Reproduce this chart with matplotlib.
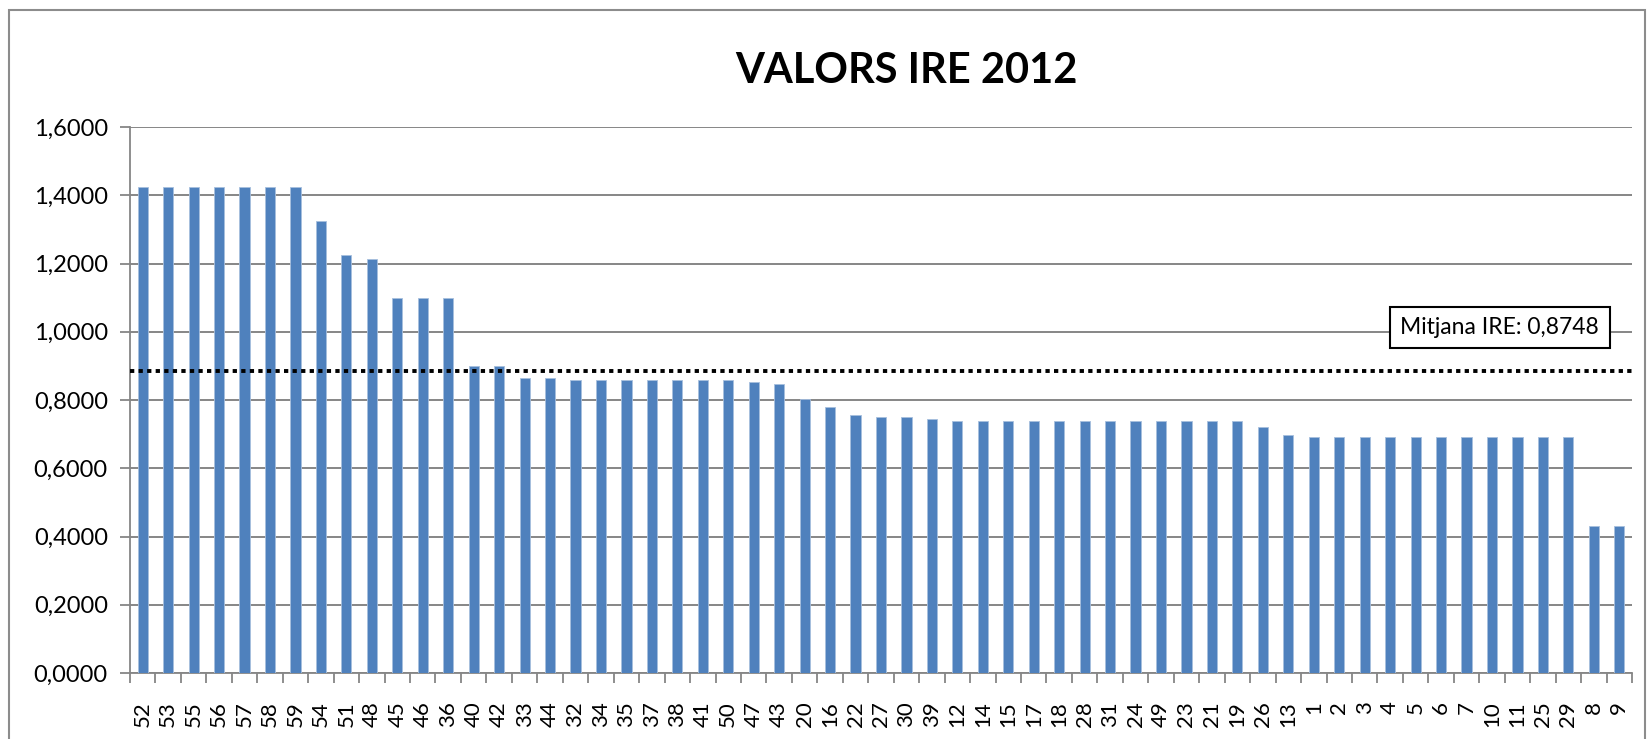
import matplotlib
matplotlib.use("Agg")
import matplotlib.pyplot as plt
from matplotlib.patches import Rectangle
import matplotlib.transforms as mtransforms
import numpy as np

# ---- data ----
categories = ["52", "53", "55", "56", "57", "58", "59", "54", "51", "48",
              "45", "46", "36", "40", "42", "33", "44", "32", "34", "35",
              "37", "38", "41", "50", "47", "43", "20", "16", "22", "27",
              "30", "39", "12", "14", "15", "17", "18", "28", "31", "24",
              "49", "23", "21", "19", "26", "13", "1", "2", "3", "4",
              "5", "6", "7", "10", "11", "25", "29", "8", "9"]
values = [1.4256, 1.4256, 1.4256, 1.4256, 1.4256, 1.4256, 1.4256, 1.326, 1.2256, 1.2138,
          1.0975, 1.0975, 1.0975, 0.899, 0.899, 0.864, 0.864, 0.858, 0.858, 0.858,
          0.858, 0.858, 0.858, 0.858, 0.853, 0.847, 0.802, 0.779, 0.756, 0.750,
          0.750, 0.744, 0.739, 0.739, 0.739, 0.739, 0.739, 0.739, 0.739, 0.739,
          0.739, 0.739, 0.739, 0.739, 0.721, 0.698, 0.691, 0.691, 0.691, 0.691,
          0.691, 0.691, 0.691, 0.691, 0.691, 0.691, 0.691, 0.432, 0.432]
y_ticks = [0.0, 0.2, 0.4, 0.6, 0.8, 1.0, 1.2, 1.4, 1.6]
mean_line_value = 0.886
mean_label = "Mitjana IRE: 0,8748"
mean_label_y = 1.012
title = "VALORS IRE 2012"

FONT = ["Lato", "DejaVu Sans"]
plt.rcParams["font.family"] = FONT

fig = plt.figure(figsize=(16.48, 7.39), dpi=100)
fig.patch.set_facecolor("white")

# outer chart border
fig.patches.append(Rectangle((9 / 1648, -0.05), (1645 - 9) / 1648, 0.05 + 1 - 10 / 739,
                             transform=fig.transFigure, fill=False,
                             edgecolor="#8c8c8c", linewidth=1.5, zorder=0))

ax = fig.add_axes([130 / 1648, 1 - 673 / 739, (1632 - 130) / 1648, (673 - 127) / 739])

x = np.arange(len(categories))
ax.bar(x, values, width=0.4, color="#4F81BD", edgecolor="#A7BFDE", linewidth=0.6, zorder=3)

ax.set_xlim(-0.5, len(categories) - 0.5)
ax.set_ylim(0, 1.6)

# grid
ax.set_yticks(y_ticks)
ax.set_yticklabels([f"{v:.4f}".replace(".", ",") for v in y_ticks])
ax.yaxis.grid(True, color="#868686", linewidth=1.4, zorder=1)
ax.set_axisbelow(True)

# x ticks at category boundaries, labels at centers
ax.set_xticks(np.arange(-0.5, len(categories) + 0.5, 1.0))
ax.set_xticklabels([])
ax.set_xticks(x, minor=True)
ax.set_xticklabels(categories, minor=True, rotation=90, fontsize=16, va="top", ha="center")
ax.tick_params(axis="x", which="major", length=7, width=1.3, color="#868686", direction="out")
ax.tick_params(axis="x", which="minor", length=0, pad=20)
ax.tick_params(axis="y", length=7, width=1.3, color="#868686", labelsize=17, pad=9)

for s in ["top", "right"]:
    ax.spines[s].set_visible(False)
for s in ["left", "bottom"]:
    ax.spines[s].set_color("#868686")
    ax.spines[s].set_linewidth(1.3)

# mean line
ax.axhline(mean_line_value, color="black", linewidth=2.8, linestyle=(0, (1.1, 1.1)), zorder=4)

blend = mtransforms.blended_transform_factory(ax.transAxes, ax.transData)
ax.text(0.912, mean_label_y, mean_label, transform=blend,
        fontsize=16.5, ha="center", va="center", zorder=5,
        bbox=dict(boxstyle="square,pad=0.45", facecolor="white", edgecolor="black", linewidth=1.5))

fig.text(906 / 1648, 1 - 71 / 739, title, fontsize=30, fontweight="bold",
         ha="center", va="center", family=FONT)

fig.savefig("out.png", dpi=100)
